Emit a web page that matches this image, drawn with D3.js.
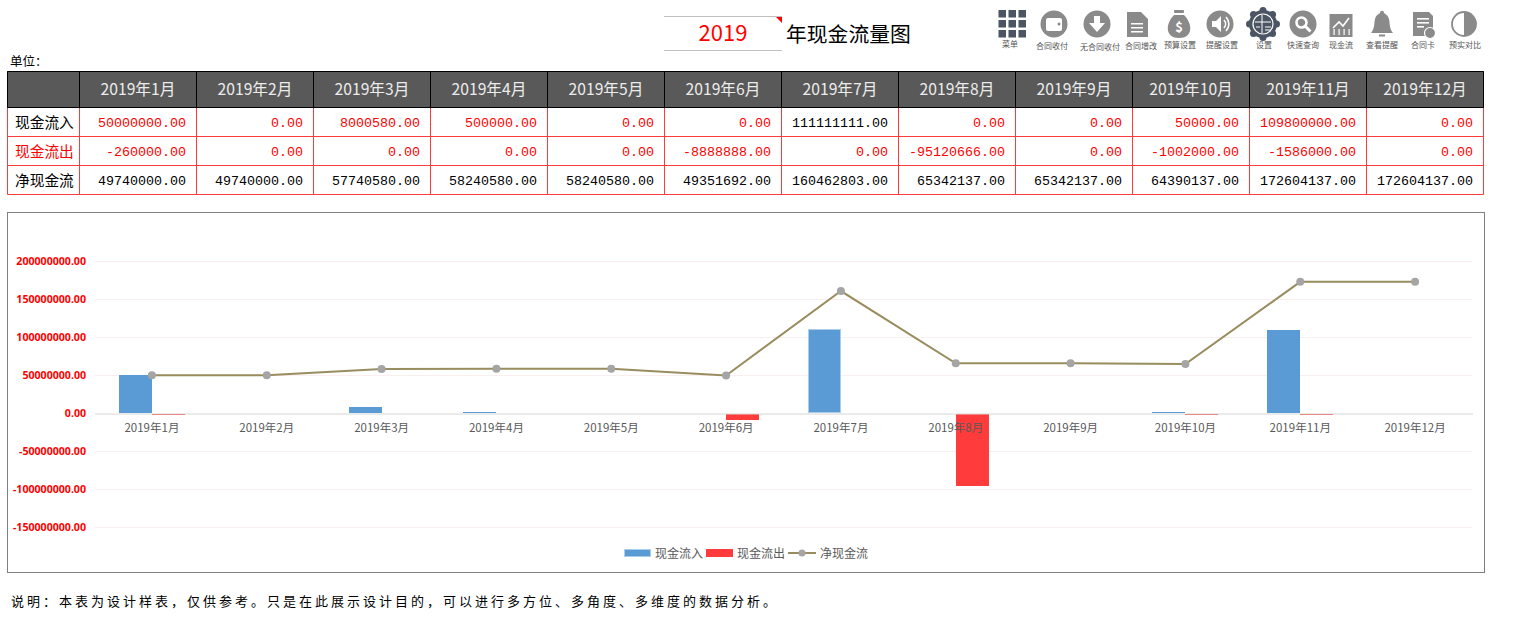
<!DOCTYPE html>
<html>
<head>
<meta charset="utf-8">
<script src="https://cdn.jsdelivr.net/npm/d3@7"></script>
<style>
  body { margin: 0; background: #fff; }
  svg { display: block; }
  text { font-family: "Noto Sans CJK SC", "Noto Sans", sans-serif; }
</style>
</head>
<body>
<div id="chart"></div>
<script>
// Data
const months = ["2019年1月","2019年2月","2019年3月","2019年4月","2019年5月","2019年6月","2019年7月","2019年8月","2019年9月","2019年10月","2019年11月","2019年12月"];
const inflow = [50000000,0,8000580,500000,0,0,111111111,0,0,50000,109800000,0];
const outflow = [-260000,0,0,0,0,-8888888,0,-95120666,0,-1002000,-1586000,0];
const net = [49740000,49740000,57740580,58240580,58240580,49351692,160462803,65342137,65342137,64390137,172604137,172604137];
const rowNames = ["现金流入","现金流出","净现金流"];
const yTicks = [200000000,150000000,100000000,50000000,0,-50000000,-100000000,-150000000];
const toolbarNames = ["菜单","合同收付","无合同收付","合同增改","预算设置","提醒设置","设置","快速查询","现金流","查看提醒","合同卡","预实对比"];

const width = 1524, height = 643;
const svg = d3.select("#chart").append("svg")
  .attr("width", width)
  .attr("height", height);

// Title
svg.append("line").attr("x1", 664).attr("x2", 782).attr("y1", 16.5).attr("y2", 16.5).attr("stroke", "#c0c0c0");
svg.append("line").attr("x1", 664).attr("x2", 782).attr("y1", 50.5).attr("y2", 50.5).attr("stroke", "#c0c0c0");
svg.append("path").attr("d", "M776,17H782V23Z").attr("fill", "red");
svg.append("text").attr("x", 723).attr("y", 41).attr("text-anchor", "middle")
  .attr("font-size", 22).attr("fill", "red").text("2019");
svg.append("text").attr("x", 786).attr("y", 41.5).attr("font-size", 20.8).attr("fill", "#000").text("年现金流量图");
svg.append("text").attr("x", 10).attr("y", 66).attr("font-size", 12.5).attr("fill", "#000").text("单位\uFF1A");

// Toolbar
const iconX = [1012,1054,1097,1137,1179,1220,1263,1303,1341,1382,1423,1464];
const labelX = [1010,1052,1100,1141,1180,1222,1264,1303,1341,1382,1423,1465];
const labelY = [47,49,50,49,48,48,48,48,48,48,48,48];
const gray = "#8a8a8a", dark = "#4b5563";
const icons = svg.append("g");
toolbarNames.forEach((name, i) => {
  const g = icons.append("g").attr("transform", `translate(${iconX[i]},24)`);
  const disc = (fill) => g.append("circle").attr("r", 13.5).attr("fill", fill);
  if (i === 0) {
    d3.range(9).forEach(k => g.append("rect")
      .attr("x", -13.5 + (k % 3) * 10).attr("y", -14 + Math.floor(k / 3) * 10)
      .attr("width", 7.5).attr("height", 7.5).attr("fill", dark));
  } else if (i === 1) {
    disc(gray);
    g.append("rect").attr("x", -8).attr("y", -6).attr("width", 16).attr("height", 13).attr("rx", 2).attr("fill", "#fff");
    g.append("circle").attr("cx", 5).attr("cy", 0).attr("r", 1.5).attr("fill", gray);
  } else if (i === 2) {
    disc(gray);
    g.append("path").attr("d", "M-3,-8H3V-1H8L0,8L-8,-1H-3Z").attr("fill", "#fff");
  } else if (i === 3) {
    g.append("path").attr("d", "M-10,-12H4L11,-5V13H-10Z").attr("fill", gray);
    [-1, 3, 7].forEach(y => g.append("rect").attr("x", -6).attr("y", y).attr("width", 12).attr("height", 1.5).attr("fill", "#fff"));
  } else if (i === 4) {
    g.append("path").attr("d", "M-5,-9C-14,0 -14,14 0,14C14,14 14,0 5,-9Z").attr("fill", gray);
    g.append("rect").attr("x", -5).attr("y", -14).attr("width", 10).attr("height", 3).attr("rx", 1).attr("fill", gray);
    g.append("text").attr("y", 8).attr("text-anchor", "middle").attr("font-size", 13).attr("font-weight", 700).attr("fill", "#fff").text("$");
  } else if (i === 5) {
    disc(gray);
    g.append("path").attr("d", "M-8,-3H-4L1,-8V8L-4,3H-8Z").attr("fill", "#fff");
    g.append("path").attr("d", "M4,-4A6,6 0 0 1 4,4M6,-7A10,10 0 0 1 6,7").attr("fill", "none").attr("stroke", "#fff").attr("stroke-width", 1.6);
  } else if (i === 6) {
    d3.range(8).forEach(k => g.append("circle")
      .attr("cx", 13.5 * Math.cos(k * Math.PI / 4)).attr("cy", 13.5 * Math.sin(k * Math.PI / 4)).attr("r", 3.5).attr("fill", dark));
    g.append("circle").attr("r", 14).attr("fill", dark);
    g.append("circle").attr("r", 10).attr("fill", "none").attr("stroke", "#fff").attr("stroke-width", 1.2);
    g.append("path").attr("d", "M-1,-9V9M-8,-2H8M2,3H8M2,6H8M-7,3H-3").attr("stroke", "#fff").attr("stroke-width", 1);
  } else if (i === 7) {
    disc(gray);
    g.append("circle").attr("cx", -1.5).attr("cy", -1.5).attr("r", 5).attr("fill", "none").attr("stroke", "#fff").attr("stroke-width", 2.6);
    g.append("line").attr("x1", 2).attr("y1", 2).attr("x2", 7.5).attr("y2", 7.5).attr("stroke", "#fff").attr("stroke-width", 3);
  } else if (i === 8) {
    g.append("rect").attr("x", -11.5).attr("y", -10).attr("width", 23).attr("height", 23).attr("fill", gray);
    g.append("path").attr("d", "M-8,4L-2,-2L2,2L8,-6").attr("fill", "none").attr("stroke", "#fff").attr("stroke-width", 1.6);
    [-7, -2, 3, 8].forEach(x => g.append("rect").attr("x", x - 0.5).attr("y", 5).attr("width", 1.2).attr("height", 6).attr("fill", "#fff"));
  } else if (i === 9) {
    g.append("path").attr("d", "M-11,9C-7,4 -8,-1 -7,-5C-6,-9 -3,-10 -2,-11C-2,-14 2,-14 2,-11C3,-10 6,-9 7,-5C8,-1 7,4 11,9Z").attr("fill", gray);
    g.append("rect").attr("x", -3).attr("y", 10.5).attr("width", 6).attr("height", 2).attr("fill", gray);
  } else if (i === 10) {
    g.append("path").attr("d", "M-10,-12H6L10,-8V12H-10Z").attr("fill", gray);
    [-6, -2, 2].forEach(y => g.append("rect").attr("x", -6).attr("y", y).attr("width", y === 2 ? 7 : 12).attr("height", 1.6).attr("fill", "#fff"));
    g.append("circle").attr("cx", 7).attr("cy", 9).attr("r", 5.5).attr("fill", gray).attr("stroke", "#fff").attr("stroke-width", 1.2);
  } else {
    g.append("circle").attr("r", 12).attr("fill", "#fff").attr("stroke", gray).attr("stroke-width", 1.8);
    g.append("path").attr("d", "M0,-12A12,12 0 0 1 0,12Z").attr("fill", gray);
  }
  svg.append("text").attr("x", labelX[i]).attr("y", labelY[i]).attr("text-anchor", "middle")
    .attr("font-size", 8).attr("fill", "#555").text(name);
});

// Table
const colX = d3.scaleLinear().domain([0, 12]).range([79.5, 1483.5]);
const rowY = [71.5, 107.5, 136.5, 165.5, 194.5];
const left = 7.5;
const tableRows = [inflow, outflow, net];

svg.append("rect").attr("x", left).attr("y", rowY[0]).attr("width", colX(12) - left).attr("height", rowY[1] - rowY[0])
  .attr("fill", "#595959");

// Red grid of the body, black grid of the header
d3.range(1, 5).forEach(r => svg.append("line").attr("x1", left).attr("x2", colX(12)).attr("y1", rowY[r]).attr("y2", rowY[r]).attr("stroke", "#ff3b3b"));
[left].concat(d3.range(13).map(colX)).forEach(x => {
  svg.append("line").attr("x1", x).attr("x2", x).attr("y1", rowY[1]).attr("y2", rowY[4]).attr("stroke", "#ff3b3b");
  svg.append("line").attr("x1", x).attr("x2", x).attr("y1", rowY[0]).attr("y2", rowY[1]).attr("stroke", "#000");
});
svg.append("path").attr("d", `M${left},${rowY[1]}V${rowY[0]}H${colX(12)}V${rowY[1]}H${left}`).attr("fill", "none").attr("stroke", "#000");

svg.selectAll(".head").data(months).enter().append("text")
  .attr("class", "head")
  .attr("x", (d, i) => (colX(i) + colX(i + 1)) / 2)
  .attr("y", 95)
  .attr("text-anchor", "middle")
  .attr("font-size", 15.7)
  .attr("fill", "#ececec")
  .text(d => d);

rowNames.forEach((name, r) => {
  svg.append("text").attr("x", 15).attr("y", rowY[r + 1] + 20)
    .attr("font-size", 14.7).attr("fill", r === 1 ? "red" : "#000").text(name);
  svg.selectAll(".cell" + r).data(tableRows[r]).enter().append("text")
    .attr("class", "cell" + r)
    .attr("x", (d, i) => colX(i + 1) - 10.5)
    .attr("y", rowY[r + 1] + 19.5)
    .attr("text-anchor", "end")
    .style("font-family", "'Liberation Mono', monospace")
    .attr("font-size", 13.33)
    .attr("fill", d => (r === 2 || d === 111111111) ? "#000" : "red")
    .text(d => d.toFixed(2));
});

// Chart frame
svg.append("rect").attr("x", 7.5).attr("y", 212.5).attr("width", 1477).attr("height", 360)
  .attr("fill", "#fff").attr("stroke", "#7f7f7f");

// Scales
const plot = { left: 94.5, right: 1472.5 };
const x0 = d3.scaleBand().domain(months).range([plot.left, plot.right]);
const y = d3.scaleLinear().domain([-150000000, 200000000]).range([527, 261]);
const barW = 33;
const centre = i => x0(months[i]) + x0.bandwidth() / 2;

// Y axis with gridlines
const yAxis = svg.append("g")
  .attr("transform", `translate(94,0)`)
  .call(d3.axisLeft(y).tickValues(yTicks).tickFormat(d => d.toFixed(2)).tickSize(0).tickPadding(8));
yAxis.select(".domain").remove();
yAxis.selectAll("text").attr("fill", "red").attr("font-size", 10.6).attr("font-weight", 700)
  .style("font-family", "'Noto Sans', sans-serif");
svg.selectAll(".grid").data(yTicks.filter(d => d !== 0)).enter().append("line")
  .attr("x1", plot.left).attr("x2", plot.right)
  .attr("y1", d => Math.round(y(d)) + 0.5).attr("y2", d => Math.round(y(d)) + 0.5)
  .attr("stroke", "#fbeeef");

// Bars, small values still take one pixel
svg.selectAll(".inflow").data(inflow).enter().append("rect")
  .attr("x", (d, i) => Math.round(centre(i)) - barW)
  .attr("y", d => Math.round(y(d)) - (d > 0 && d < 1000000 ? 1 : 0))
  .attr("width", barW)
  .attr("height", d => d > 0 ? Math.max(1, Math.round(y(0) - y(d))) : 0)
  .attr("fill", "#5b9bd5");
svg.selectAll(".outflow").data(outflow).enter().append("rect")
  .attr("x", (d, i) => Math.round(centre(i)))
  .attr("y", y(0) + 1)
  .attr("width", barW)
  .attr("height", d => d < 0 ? Math.max(1, Math.floor(y(d) - y(0))) : 0)
  .attr("fill", "#ff3b3b");

// Dotted edge of the highlighted July bar
svg.append("rect")
  .attr("x", Math.round(centre(6)) - barW + 0.5)
  .attr("y", Math.round(y(inflow[6])) + 0.5)
  .attr("width", barW - 1)
  .attr("height", Math.round(y(0) - y(inflow[6])) - 1)
  .attr("fill", "none")
  .attr("stroke", "#fff")
  .attr("stroke-dasharray", "1,1");

// X axis on the zero line
const xAxis = svg.append("g")
  .attr("transform", `translate(0,${Math.round(y(0)) + 0.5})`)
  .call(d3.axisBottom(x0).tickSize(0).tickPadding(10));
xAxis.select(".domain").attr("stroke", "#d6d6d6");
xAxis.selectAll("text").attr("fill", "#595959").attr("font-size", 11.5)
  .style("font-family", "'Noto Sans CJK SC', sans-serif");

// Net line and markers
const line = d3.line()
  .x((d, i) => centre(i))
  .y(d => y(d));
svg.append("path").datum(net)
  .attr("d", line)
  .attr("fill", "none")
  .attr("stroke", "#998c5e")
  .attr("stroke-width", 2);
svg.selectAll(".dot").data(net).enter().append("circle")
  .attr("cx", (d, i) => centre(i))
  .attr("cy", d => y(d))
  .attr("r", 4)
  .attr("fill", "#a5a5a5");

// Legend
const legendText = svg.append("g").attr("font-size", 12).attr("fill", "#595959");
svg.append("rect").attr("x", 624).attr("y", 549).attr("width", 27).attr("height", 8).attr("fill", "#5b9bd5");
svg.append("rect").attr("x", 624.5).attr("y", 549.5).attr("width", 26).attr("height", 7)
  .attr("fill", "none").attr("stroke", "#fff").attr("stroke-dasharray", "1,1");
svg.append("rect").attr("x", 706).attr("y", 549).attr("width", 27).attr("height", 8).attr("fill", "#ff3b3b");
svg.append("line").attr("x1", 788).attr("x2", 816).attr("y1", 553).attr("y2", 553).attr("stroke", "#998c5e").attr("stroke-width", 2);
svg.append("circle").attr("cx", 802).attr("cy", 553).attr("r", 3.5).attr("fill", "#a5a5a5");
[655, 737, 820].forEach((x, i) => legendText.append("text").attr("x", x).attr("y", 557.5).text(rowNames[i]));

// Note under the chart
svg.append("text").attr("x", 11).attr("y", 605.5)
  .attr("font-size", 13)
  .attr("letter-spacing", 3)
  .attr("fill", "#000")
  .text("说明\uFF1A本表为设计样表\uFF0C仅供参考。只是在此展示设计目的\uFF0C可以进行多方位、多角度、多维度的数据分析。");
</script>
</body>
</html>
